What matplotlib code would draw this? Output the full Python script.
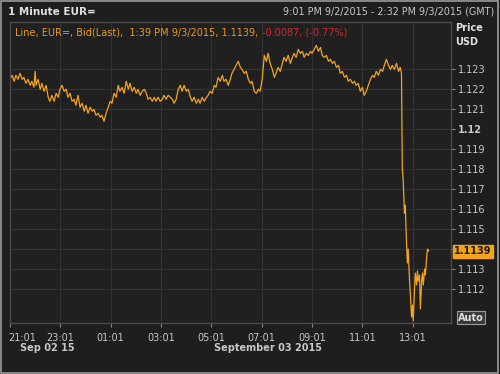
import matplotlib.pyplot as plt
from matplotlib.patches import Rectangle
import matplotlib.transforms as mtransforms

# minutes after 21:01 on Sep 02 2015 (1-minute EUR= bid)
minutes = [0, 5, 10, 14, 19, 24, 29, 33, 38, 43, 48, 52, 57, 60, 62, 67, 72, 76, 81, 86,
           91, 95, 100, 105, 110, 115, 119, 124, 129, 134, 138, 143, 148, 153, 157, 162, 167, 172, 177, 181,
           186, 191, 196, 200, 205, 210, 215, 219, 224, 229, 234, 239, 243, 248, 253, 258, 262, 267, 272, 277,
           282, 286, 291, 296, 301, 305, 310, 315, 320, 325, 329, 334, 339, 344, 348, 353, 358, 363, 367, 372,
           377, 382, 387, 391, 396, 401, 406, 410, 415, 420, 425, 430, 434, 439, 444, 449, 453, 458, 463, 468,
           472, 477, 482, 487, 491, 496, 501, 506, 510, 515, 520, 525, 529, 534, 539, 544, 549, 553, 558, 563,
           568, 573, 577, 582, 587, 592, 596, 601, 606, 611, 615, 620, 625, 630, 634, 639, 644, 649, 653, 658,
           663, 668, 673, 677, 682, 687, 692, 697, 701, 706, 711, 716, 720, 725, 730, 735, 740, 744, 749, 754,
           759, 764, 768, 773, 778, 783, 787, 792, 797, 802, 806, 811, 816, 821, 825, 830, 835, 840, 844, 849,
           854, 859, 864, 868, 873, 878, 883, 888, 892, 897, 902, 907, 911, 916, 921, 926, 930, 933, 935, 937,
           940, 942, 945, 947, 949, 952, 954, 957, 959, 961, 964, 966, 969, 971, 973, 976, 978, 981, 983, 985,
           988, 990, 993, 995, 998]
bid = [1.1225, 1.1227, 1.1224, 1.1227, 1.1225, 1.1228, 1.1225, 1.1226, 1.1223, 1.1225,
       1.1222, 1.1224, 1.1221, 1.1229, 1.1222, 1.1225, 1.1220, 1.1223, 1.1219, 1.1222,
       1.1216, 1.1214, 1.1217, 1.1214, 1.1218, 1.1216, 1.1220, 1.1222, 1.1219, 1.1220,
       1.1216, 1.1218, 1.1214, 1.1215, 1.1212, 1.1217, 1.1211, 1.1213, 1.1209, 1.1212,
       1.1208, 1.1211, 1.1209, 1.1210, 1.1207, 1.1208, 1.1206, 1.1207, 1.1204, 1.1208,
       1.1211, 1.1214, 1.1213, 1.1218, 1.1216, 1.1222, 1.1219, 1.1221, 1.1218, 1.1224,
       1.1220, 1.1223, 1.1219, 1.1221, 1.1218, 1.1220, 1.1217, 1.1219, 1.1220, 1.1218,
       1.1215, 1.1216, 1.1214, 1.1216, 1.1214, 1.1216, 1.1214, 1.1215, 1.1217, 1.1215,
       1.1217, 1.1216, 1.1215, 1.1213, 1.1215, 1.1220, 1.1222, 1.1219, 1.1222, 1.1219,
       1.1220, 1.1216, 1.1214, 1.1216, 1.1213, 1.1215, 1.1213, 1.1216, 1.1214, 1.1216,
       1.1217, 1.1219, 1.1218, 1.1222, 1.1221, 1.1226, 1.1224, 1.1227, 1.1224, 1.1225,
       1.1222, 1.1225, 1.1228, 1.1230, 1.1232, 1.1234, 1.1231, 1.1230, 1.1228, 1.1229,
       1.1225, 1.1223, 1.1224, 1.1219, 1.1218, 1.1220, 1.1219, 1.1225, 1.1237, 1.1234,
       1.1238, 1.1233, 1.1230, 1.1226, 1.1228, 1.1231, 1.1229, 1.1233, 1.1236, 1.1234,
       1.1237, 1.1233, 1.1236, 1.1238, 1.1236, 1.1240, 1.1238, 1.1239, 1.1236, 1.1238,
       1.1237, 1.1239, 1.1238, 1.1240, 1.1242, 1.1239, 1.1241, 1.1237, 1.1236, 1.1237,
       1.1234, 1.1235, 1.1233, 1.1234, 1.1231, 1.1232, 1.1228, 1.1229, 1.1226, 1.1227,
       1.1224, 1.1225, 1.1223, 1.1224, 1.1222, 1.1223, 1.1219, 1.1221, 1.1217, 1.1219,
       1.1222, 1.1225, 1.1227, 1.1226, 1.1229, 1.1227, 1.1230, 1.1229, 1.1232, 1.1235,
       1.1232, 1.1230, 1.1232, 1.1230, 1.1233, 1.1229, 1.1231, 1.1228, 1.1180, 1.1175,
       1.1158, 1.1162, 1.1143, 1.1133, 1.1140, 1.1125, 1.1118, 1.1106, 1.1112, 1.1104,
       1.1120, 1.1128, 1.1122, 1.1129, 1.1124, 1.1127, 1.1110, 1.1124, 1.1128, 1.1122,
       1.1130, 1.1127, 1.1136, 1.1140, 1.1139]

x_ticks = [0, 120, 240, 360, 480, 600, 720, 840, 960]
x_labels = ["21:01", "23:01", "01:01", "03:01", "05:01", "07:01", "09:01", "11:01", "13:01"]
y_ticks = [1.112, 1.113, 1.114, 1.115, 1.116, 1.117, 1.118, 1.119, 1.12, 1.121, 1.122, 1.123]
y_labels = ["1.112", "1.113", "", "1.115", "1.116", "1.117", "1.118", "1.119", "1.12", "1.121", "1.122", "1.123"]
last_price = 1.1139

bg = "#1e1e1e"
orange = "#f5a31c"
txt = "#c8c8c8"

fig = plt.figure(figsize=(5, 3.74), dpi=100, facecolor=bg)
ax = fig.add_axes([0.02, 0.1364, 0.882, 0.8048], facecolor="#202020")

ax.plot(minutes, bid, color=orange, lw=0.9)

ax.set_xlim(0, 1051)
ax.set_ylim(1.11030, 1.12537)
ax.set_xticks(x_ticks)
ax.set_xticklabels(x_labels)
ax.set_yticks(y_ticks)
ax.set_yticklabels(y_labels)
ax.yaxis.tick_right()
ax.tick_params(axis="both", colors="#888888", labelcolor=txt, labelsize=7, length=3, width=0.8)
ax.tick_params(axis="x", pad=4)
ax.tick_params(axis="y", pad=2)
# first time label sits flush with the left edge
first = ax.get_xticklabels()[0]
first.set_horizontalalignment("left")
first.set_transform(first.get_transform() + mtransforms.ScaledTranslation(-2 / 100, 0, fig.dpi_scale_trans))
for lbl in ax.get_yticklabels():
    if lbl.get_text() == "1.12":
        lbl.set_fontweight("bold")
ax.grid(True, color="#333333", lw=0.8)
for s in ax.spines.values():
    s.set_color("#4a4a4a")
    s.set_linewidth(1.0)

# header texts
fig.text(0.016, 0.968, "1 Minute EUR=", color="#e0e0e0", fontsize=7.5, fontweight="bold", va="center")
fig.text(0.988, 0.968, "9:01 PM 9/2/2015 - 2:32 PM 9/3/2015 (GMT)", color=txt, fontsize=6.9, ha="right", va="center")

t1 = ax.text(0.012, 0.965, "Line, EUR=, Bid(Last),  1:39 PM 9/3/2015, 1.1139, ",
             transform=ax.transAxes, color="#e89a1e", fontsize=7, va="center")
fig.canvas.draw()
bb = t1.get_window_extent().transformed(ax.transAxes.inverted())
ax.text(bb.x1, 0.965, "-0.0087, (-0.77%)", transform=ax.transAxes, color="#e0242a", fontsize=7, va="center")

fig.text(0.91, 0.925, "Price", color="#e0e0e0", fontsize=7, fontweight="bold", va="center")
fig.text(0.91, 0.888, "USD", color="#e0e0e0", fontsize=7, fontweight="bold", va="center")

# last price marker on the axis
trans = mtransforms.blended_transform_factory(ax.transAxes, ax.transData)
ax.text(1.007, last_price, "1.1139", transform=trans, color="#1a1a1a", fontsize=7, fontweight="bold",
        va="center", ha="left", bbox=dict(boxstyle="square,pad=0.15", fc=orange, ec=orange))

fig.text(0.916, 0.15, "Auto", color="#e0e0e0", fontsize=7, fontweight="bold", va="center",
         bbox=dict(boxstyle="square,pad=0.15", fc="#3a3a3a", ec="#9a9a9a", lw=0.8))

# date labels
fig.text(0.094, 0.069, "Sep 02 15", color=txt, fontsize=7, fontweight="bold", ha="center", va="center")
fig.text(0.536, 0.069, "September 03 2015", color=txt, fontsize=7, fontweight="bold", ha="center", va="center")

# outer frame
fig.patches.append(Rectangle((0.002, 0.003), 0.994, 0.994, transform=fig.transFigure,
                             fill=False, ec="#9a9a9a", lw=1.2))

fig.savefig("out.png", dpi=100, facecolor=bg)
